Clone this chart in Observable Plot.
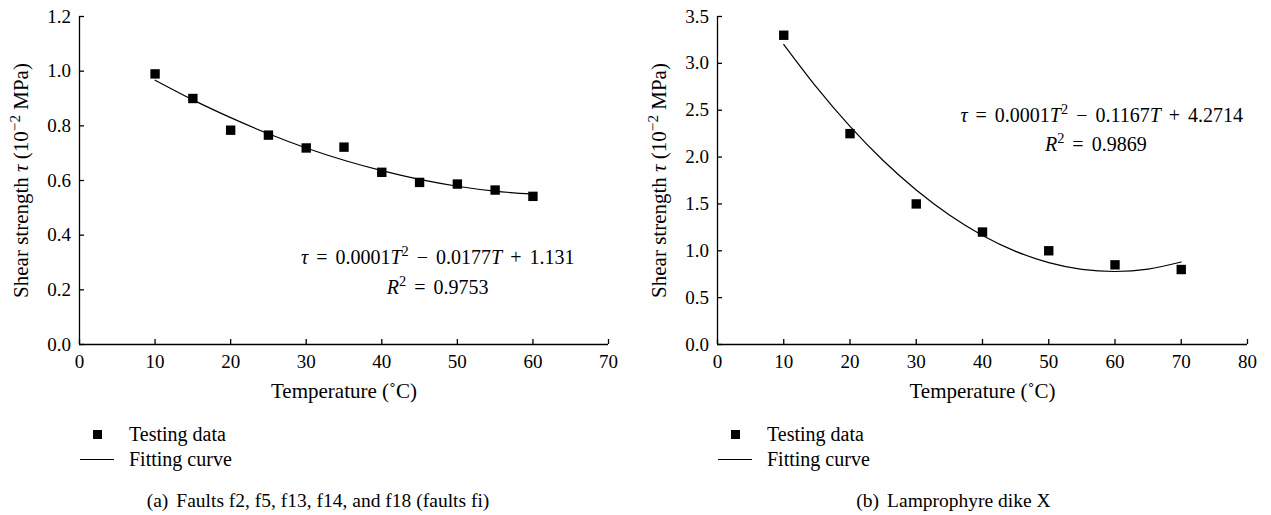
<!DOCTYPE html>
<html><head><meta charset="utf-8">
<script src="https://cdn.jsdelivr.net/npm/d3@7"></script>
<script src="https://cdn.jsdelivr.net/npm/@observablehq/plot@0.6"></script>
<style>
body{margin:0;background:#fff;}
#wrap{position:relative;width:1271px;height:515px;font-family:"Liberation Serif",serif;color:#000;overflow:hidden;}
.panel{position:absolute;top:0;height:515px;}
.chart{position:absolute;left:0;top:0;}
.row{position:absolute;height:25px;line-height:25px;font-size:20px;white-space:nowrap;}
.sq{position:absolute;width:9px;height:9px;background:#000;top:8px;}
.ln{position:absolute;height:1.3px;background:#000;top:12px;}
.cap{position:absolute;left:0;right:0;text-align:center;top:488px;height:25px;line-height:25px;font-size:19.5px;white-space:nowrap;}
.cap .lab{margin-right:8px;}
</style></head><body>
<div id="wrap"></div>
<script>
// ---- Panel (a): Faults f2, f5, f13, f14, f18 ----
const faultsT = [10, 15, 20, 25, 30, 35, 40, 45, 50, 55, 60];
const faultsTau = [0.990, 0.900, 0.784, 0.766, 0.719, 0.722, 0.630, 0.593, 0.587, 0.565, 0.542];
const faultsFitT = [10, 15, 20, 25, 30, 35, 40, 45, 50, 55, 60];
const faultsFitTau = [0.967, 0.895, 0.830, 0.771, 0.719, 0.674, 0.636, 0.604, 0.579, 0.561, 0.550];
const faultsXTicks = [0, 10, 20, 30, 40, 50, 60, 70];
const faultsYTicks = [0, 0.2, 0.4, 0.6, 0.8, 1.0, 1.2];
const faultsEquation = ["τ = 0.0001T² − 0.0177T + 1.131", "R² = 0.9753"];
const faultsEquationT = [47.4, 47.4];
const faultsEquationTau = [0.318, 0.209];
const faultsCaption = ["(a)", "Faults f2, f5, f13, f14, and f18 (faults fi)"];

// ---- Panel (b): Lamprophyre dike X ----
const dikeT = [10, 20, 30, 40, 50, 60, 70];
const dikeTau = [3.30, 2.25, 1.50, 1.20, 1.00, 0.85, 0.80];
const dikeFitT = [10, 15, 20, 25, 30, 35, 40, 45, 50, 55, 60, 65, 70];
const dikeFitTau = [3.202, 2.740, 2.327, 1.963, 1.648, 1.381, 1.163, 0.994, 0.874, 0.802, 0.779, 0.805, 0.880];
const dikeXTicks = [0, 10, 20, 30, 40, 50, 60, 70, 80];
const dikeYTicks = [0, 0.5, 1.0, 1.5, 2.0, 2.5, 3.0, 3.5];
const dikeEquation = ["τ = 0.0001T² − 0.1167T + 4.2714", "R² = 0.9869"];
const dikeEquationT = [58.0, 57.1];
const dikeEquationTau = [2.444, 2.134];
const dikeCaption = ["(b)", "Lamprophyre dike X"];

const xTitle = "Temperature (˚C)";
const yTitle = "Shear strength τ (10⁻² MPa)";
const legendLabels = ["Testing data", "Fitting curve"];

function rich(s) {
  return s
    .replace(/[τTR]/g, m => `<tspan font-style="italic">${m}</tspan>`)
    .replace(/[⁻²]+/g, m => `<tspan baseline-shift="super" font-size="72%">${m.replace("⁻", "−").replace("²", "2")}</tspan>`);
}

function panel(cfg) {
  const pts = cfg.T.map((t, i) => ({T: t, tau: cfg.tau[i]}));
  const fit = cfg.fitT.map((t, i) => ({T: t, tau: cfg.fitTau[i]}));
  const eq = cfg.eq.map((s, i) => ({T: cfg.eqT[i], tau: cfg.eqTau[i], s}));
  const svg = Plot.plot({
    width: cfg.width, height: 410,
    marginLeft: cfg.ml, marginRight: cfg.mr, marginTop: 16, marginBottom: 66,
    style: {fontFamily: "Liberation Serif, serif", fontSize: "19px", color: "#000", background: "#fff", overflow: "visible"},
    x: {domain: [cfg.xTicks[0], cfg.xTicks[cfg.xTicks.length - 1]]},
    y: {domain: [cfg.yTicks[0], cfg.yTicks[cfg.yTicks.length - 1]]},
    marks: [
      Plot.axisX({ticks: cfg.xTicks, tickSize: -5, tickPadding: 15, tickFormat: d3.format("d"), strokeWidth: 1.3,
        label: xTitle, labelAnchor: "center", labelOffset: 53, fontSize: 19}),
      Plot.axisY({ticks: cfg.yTicks, tickSize: -5, tickPadding: 13.5, tickFormat: d3.format(".1f"), strokeWidth: 1.3,
        label: yTitle, labelAnchor: "center", labelOffset: 66, fontSize: 19}),
      Plot.ruleX([cfg.xTicks[0]], {strokeWidth: 1.3}),
      Plot.ruleY([cfg.yTicks[0]], {strokeWidth: 1.3}),
      Plot.line(fit, {x: "T", y: "tau", curve: "natural", stroke: "#000", strokeWidth: 1.2}),
      Plot.dot(pts, {x: "T", y: "tau", symbol: "square", r: 5.3, fill: "#000", stroke: "none"}),
      Plot.text(eq, {x: "T", y: "tau", text: "s", textAnchor: "middle", lineAnchor: "middle", fontSize: 20, fill: "#000"})
    ]
  });
  svg.querySelectorAll('g[aria-label="text"] text').forEach(t => {
    t.innerHTML = rich(t.textContent);
    t.setAttribute("word-spacing", "3px");
  });
  const yl = svg.querySelector('g[aria-label="y-axis label"] text');
  if (yl) { yl.innerHTML = rich(yTitle); yl.setAttribute("font-size", "21"); }
  const xl = svg.querySelector('g[aria-label="x-axis label"] text');
  if (xl) { xl.textContent = xTitle; xl.setAttribute("font-size", "21"); }

  const p = document.createElement("div");
  p.className = "panel";
  p.style.left = cfg.left + "px";
  p.style.width = cfg.width + "px";
  const c = document.createElement("div");
  c.className = "chart";
  c.appendChild(svg);
  p.appendChild(c);

  const ax = cfg.ml; // y-axis position within panel
  const r1 = document.createElement("div");
  r1.className = "row"; r1.style.left = (ax + 14) + "px"; r1.style.top = "422px";
  r1.innerHTML = `<span class="sq" style="left:0"></span><span style="position:absolute;left:36px">${legendLabels[0]}</span>`;
  const r2 = document.createElement("div");
  r2.className = "row"; r2.style.left = (ax + 1) + "px"; r2.style.top = "447px";
  r2.innerHTML = `<span class="ln" style="left:0;width:34px"></span><span style="position:absolute;left:49px">${legendLabels[1]}</span>`;
  p.appendChild(r1); p.appendChild(r2);

  const cap = document.createElement("div");
  cap.className = "cap";
  cap.innerHTML = `<span class="lab">${cfg.caption[0]}</span>${cfg.caption[1]}`;
  p.appendChild(cap);
  document.getElementById("wrap").appendChild(p);
}

panel({left: 0, width: 636, ml: 79, mr: 28,
  T: faultsT, tau: faultsTau, fitT: faultsFitT, fitTau: faultsFitTau,
  xTicks: faultsXTicks, yTicks: faultsYTicks,
  eq: faultsEquation, eqT: faultsEquationT, eqTau: faultsEquationTau, caption: faultsCaption});
panel({left: 636, width: 635, ml: 81, mr: 24,
  T: dikeT, tau: dikeTau, fitT: dikeFitT, fitTau: dikeFitTau,
  xTicks: dikeXTicks, yTicks: dikeYTicks,
  eq: dikeEquation, eqT: dikeEquationT, eqTau: dikeEquationTau, caption: dikeCaption});
</script>
</body></html>
